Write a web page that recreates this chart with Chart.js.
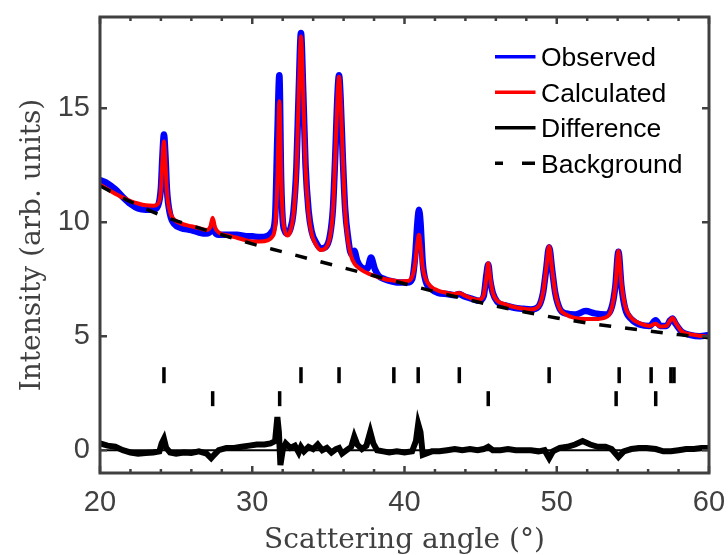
<!DOCTYPE html>
<html>
<head>
<meta charset="utf-8">
<script src="https://cdn.jsdelivr.net/npm/chart.js@4/dist/chart.umd.min.js"></script>
<style>
  html, body { margin: 0; padding: 0; background: #fff; }
  #wrap { width: 728px; height: 555px; }
</style>
</head>
<body>
<div id="wrap"><canvas id="xrd" width="728" height="555"></canvas></div>
<script>
// scattering angle grid shared by observed / calculated profiles
const angle = [
  20.0, 20.5, 21.0, 21.5, 22.0, 22.5, 23.0, 23.5, 23.8, 24.0, 24.1, 24.2, 24.3, 24.4, 24.6, 24.9,
  25.3, 26.0, 26.5, 27.0, 27.25, 27.4, 27.55, 27.8, 28.5, 29.0, 29.5, 30.0, 30.5, 31.0, 31.3, 31.5,
  31.65, 31.78, 31.9, 32.0, 32.15, 32.3, 32.5, 32.7, 32.9, 33.05, 33.2, 33.35, 33.5, 33.7, 33.9, 34.2,
  34.5, 34.8, 35.1, 35.3, 35.45, 35.6, 35.7, 35.8, 35.95, 36.1, 36.3, 36.5, 36.7, 36.9, 37.2, 37.55,
  37.8, 38.05, 38.3, 38.7, 39.2, 39.7, 40.2, 40.5, 40.7, 40.85, 40.95, 41.05, 41.2, 41.4, 41.7, 42.2,
  42.8, 43.3, 43.6, 43.9, 44.4, 44.9, 45.2, 45.38, 45.5, 45.62, 45.8, 46.1, 46.6, 47.2, 47.8, 48.3,
  48.8, 49.1, 49.3, 49.5, 49.7, 49.9, 50.2, 50.6, 51.2, 51.9, 52.5, 53.2, 53.6, 53.85, 54.05, 54.25,
  54.5, 54.9, 55.5, 56.1, 56.5, 56.8, 57.2, 57.45, 57.6, 57.8, 58.2, 58.8, 59.4, 60.0
];
const calculated = [
  11.65, 11.45, 11.25, 11.08, 10.93, 10.82, 10.74, 10.72, 10.8, 11.4, 12.7, 13.55, 12.6, 11.3, 10.45, 10.1,
  9.95, 9.82, 9.74, 9.66, 9.8, 10.2, 9.78, 9.55, 9.4, 9.32, 9.22, 9.15, 9.15, 9.2, 9.35, 9.8,
  11.8, 15.3, 12.0, 10.3, 9.6, 9.42, 9.6, 10.3, 12.2, 15.5, 18.15, 15.6, 12.4, 10.4, 9.5, 9.0,
  8.78, 8.85, 9.35, 10.5, 12.8, 15.5, 16.38, 15.5, 12.8, 10.5, 9.15, 8.5, 8.2, 8.05, 7.9, 7.77,
  7.7, 7.65, 7.58, 7.5, 7.45, 7.4, 7.42, 7.6, 8.2, 9.1, 9.45, 9.0, 8.0, 7.5, 7.2, 7.0,
  6.9, 6.85, 6.9, 6.8, 6.66, 6.6, 6.8, 7.6, 8.2, 7.6, 6.9, 6.55, 6.4, 6.28, 6.2, 6.17,
  6.3, 6.9, 7.9, 8.95, 7.9, 6.9, 6.2, 5.95, 5.8, 5.75, 5.75, 5.82, 6.2, 7.2, 8.75, 7.3,
  6.3, 5.8, 5.55, 5.45, 5.55, 5.42, 5.45, 5.7, 5.8, 5.6, 5.22, 5.08, 5.02, 4.98
];
const observed = [
  11.85, 11.7, 11.45, 11.1, 10.8, 10.6, 10.55, 10.55, 10.7, 11.5, 12.9, 13.85, 12.9, 11.4, 10.35, 9.9,
  9.75, 9.65, 9.55, 9.5, 9.6, 9.85, 9.55, 9.45, 9.45, 9.45, 9.4, 9.38, 9.35, 9.4, 9.6, 10.2,
  13.8, 16.45, 11.8, 10.1, 9.6, 9.5, 9.7, 10.4, 12.4, 15.7, 18.3, 15.7, 12.5, 10.5, 9.6, 9.1,
  8.85, 8.9, 9.4, 10.6, 12.9, 15.6, 16.45, 15.5, 12.8, 10.6, 9.3, 8.6, 8.75, 8.3, 8.0, 7.95,
  8.45, 7.95, 7.65, 7.5, 7.4, 7.35, 7.35, 7.5, 8.5, 10.0, 10.55, 10.0, 8.2, 7.4, 7.1, 6.9,
  6.85, 6.8, 6.85, 6.75, 6.65, 6.55, 6.75, 7.7, 8.15, 7.5, 6.9, 6.5, 6.35, 6.25, 6.2, 6.17,
  6.3, 6.9, 7.9, 8.9, 7.9, 6.9, 6.2, 6.0, 5.95, 6.1, 6.0, 5.95, 6.25, 7.2, 8.7, 7.2,
  6.2, 5.75, 5.5, 5.45, 5.7, 5.45, 5.45, 5.7, 5.78, 5.55, 5.2, 5.05, 5.0, 5.05
];

// difference curve
const diffAngle = [
  20.0, 20.5, 21.0, 21.5, 22.0, 22.5, 23.0, 23.5, 23.9, 24.05, 24.2, 24.35, 24.6, 25.0, 25.5, 26.0,
  26.5, 27.0, 27.3, 27.5, 27.8, 28.3, 28.8, 29.3, 29.8, 30.3, 30.8, 31.2, 31.5, 31.65, 31.75, 31.85,
  32.0, 32.2, 32.5, 32.8, 33.05, 33.2, 33.4, 33.7, 34.0, 34.3, 34.6, 34.9, 35.2, 35.5, 35.7, 35.9,
  36.2, 36.5, 36.7, 36.9, 37.2, 37.5, 37.75, 37.95, 38.2, 38.6, 39.0, 39.5, 40.0, 40.5, 40.75, 40.9,
  41.05, 41.2, 41.4, 41.8, 42.3, 42.8, 43.3, 43.8, 44.3, 44.8, 45.2, 45.5, 45.8, 46.3, 46.8, 47.3,
  47.8, 48.3, 48.8, 49.2, 49.5, 49.75, 50.2, 50.7, 51.2, 51.7, 52.2, 52.7, 53.2, 53.6, 54.05, 54.4,
  54.9, 55.4, 55.9, 56.5, 57.0, 57.5, 58.0, 58.5, 59.0, 59.5, 60.0
];
const difference = [
  0.3, 0.2, 0.15, 0.0, -0.1, -0.15, -0.12, -0.1, -0.05, 0.3, 0.5, 0.1, -0.1, -0.15, -0.1, -0.12,
  -0.05, -0.15, -0.35, -0.2, 0.0, 0.1, 0.1, 0.15, 0.2, 0.25, 0.25, 0.3, 0.4, 1.45, 0.8, -0.65,
  0.0, 0.3, 0.1, 0.2, -0.1, 0.15, -0.05, 0.15, 0.05, 0.25, 0.0, 0.1, -0.1, 0.05, 0.1, -0.15,
  0.0, 0.15, 0.6, 0.25, 0.05, 0.2, 0.8, 0.3, 0.0, -0.05, -0.1, -0.05, -0.1, -0.05, 0.4, 1.15,
  0.8, -0.2, -0.15, -0.05, -0.05, 0.0, 0.05, 0.0, 0.05, 0.0, 0.05, 0.15, 0.0, 0.0, 0.05, 0.0,
  0.0, 0.0, -0.05, 0.0, -0.35, -0.05, 0.1, 0.15, 0.25, 0.4, 0.25, 0.15, 0.15, 0.05, -0.3, -0.05,
  0.05, 0.1, 0.1, 0.05, -0.05, -0.05, 0.0, 0.05, 0.05, 0.1, 0.1
];

// refined background
const bgAngle = [20, 22, 24, 26, 28, 30, 32, 34, 36, 38, 40, 42, 44, 46, 48, 50, 52, 54, 56, 58, 60];
const background = [11.6, 10.9, 10.3, 9.85, 9.45, 9.05, 8.7, 8.35, 8.0, 7.65, 7.3, 6.95, 6.63, 6.32, 6.05, 5.8, 5.58, 5.4, 5.23, 5.07, 4.93];

// Bragg reflection positions, two phases
const phase1Refl = [24.2, 33.2, 35.7, 39.3, 40.9, 43.6, 49.5, 54.1, 56.2, 57.5, 57.7];
const phase2Refl = [27.4, 31.8, 45.5, 53.9, 56.5];

const xTicks = [20, 30, 40, 50, 60];
const yTicks = [0, 5, 10, 15];
const legendLabels = ["Observed", "Calculated", "Difference", "Background"];

const pts = (xs, ys) => xs.map((v, i) => ({x: v, y: ys[i]}));
const row1Y = 3.29, row2Y = 2.26;

// box + inward ticks like the original plot
const frame = {
  id: "frame",
  afterDatasetsDraw(chart){
    const {ctx, chartArea: a, scales: {x, y}} = chart;
    ctx.save();
    ctx.strokeStyle = "#404040";
    ctx.lineWidth = 2.5;
    ctx.beginPath();
    for(let v = 20; v <= 60; v += 2){
      const px = x.getPixelForValue(v);
      const len = xTicks.includes(v) ? 7 : 4;
      ctx.moveTo(px, a.bottom); ctx.lineTo(px, a.bottom - len);
      ctx.moveTo(px, a.top); ctx.lineTo(px, a.top + len);
    }
    yTicks.forEach(v => {
      const py = y.getPixelForValue(v);
      ctx.moveTo(a.left, py); ctx.lineTo(a.left + 7, py);
      ctx.moveTo(a.right, py); ctx.lineTo(a.right - 7, py);
    });
    ctx.stroke();
    ctx.lineWidth = 3;
    ctx.strokeRect(a.left, a.top, a.right - a.left, a.bottom - a.top);
    ctx.restore();
  }
};

const legendBox = {
  id: "legendBox",
  afterDraw(chart){
    const ctx = chart.ctx;
    ctx.save();
    ctx.font = '26.5px "Liberation Sans", Arial, sans-serif';
    ctx.textBaseline = "alphabetic";
    ctx.fillStyle = "#000";
    legendLabels.forEach((lab, i) => {
      const ds = chart.data.datasets.find(d => d.label === lab);
      const cy = 56.7 + i * 35.5;
      ctx.strokeStyle = ds.borderColor;
      ctx.lineWidth = 3.5;
      ctx.setLineDash(ds.borderDash ? [8, 19, 13] : []);
      ctx.beginPath();
      ctx.moveTo(495, cy); ctx.lineTo(535.5, cy);
      ctx.stroke();
      ctx.fillText(lab, 541, cy + 9.5);
    });
    ctx.restore();
  }
};

// no extra room for overflowing tick labels: the plot box is fixed
const noPad = s => { s.paddingTop = 0; s.paddingBottom = 0; s.paddingLeft = 0; s.paddingRight = 0; };

const tickFont = {family: '"Liberation Sans", Arial, sans-serif', size: 29};
const titleFont = {family: '"DejaVu Serif", serif', size: 28};

new Chart(document.getElementById("xrd"), {
  type: "scatter",
  data: {
    datasets: [
      {label: "Background", data: pts(bgAngle, background), showLine: true, borderColor: "#000", borderWidth: 3.5,
       borderDash: [12, 14], pointRadius: 0, cubicInterpolationMode: "monotone", order: 0},
      {label: "Calculated", data: pts(angle, calculated), showLine: true, borderColor: "#ff0000", borderWidth: 4,
       pointRadius: 0, cubicInterpolationMode: "monotone", order: 1},
      {label: "Observed", data: pts(angle, observed), showLine: true, borderColor: "#0000ff", borderWidth: 6.5,
       pointRadius: 0, cubicInterpolationMode: "monotone", order: 2},
      {label: "Difference", data: pts(diffAngle, difference), showLine: true, borderColor: "#000", borderWidth: 6,
       pointRadius: 0, tension: 0, order: 3},
      {label: "zero", data: pts([20, 60], [0, 0]), showLine: true, borderColor: "#000", borderWidth: 2,
       pointRadius: 0, order: 4},
      {label: "phase1", data: phase1Refl.map(v => ({x: v, y: row1Y})), showLine: false, pointStyle: "line",
       rotation: 90, pointRadius: 8, borderColor: "#000", borderWidth: 3.5, order: 5},
      {label: "phase2", data: phase2Refl.map(v => ({x: v, y: row2Y})), showLine: false, pointStyle: "line",
       rotation: 90, pointRadius: 7.5, borderColor: "#000", borderWidth: 3.5, order: 6}
    ]
  },
  options: {
    responsive: false,
    animation: false,
    events: [],
    datasets: {scatter: {clip: 0}},
    layout: {padding: {left: 0, top: 17, right: 19, bottom: 0}},
    plugins: {legend: {display: false}, tooltip: {enabled: false}},
    scales: {
      x: {
        type: "linear", min: 20, max: 60,
        afterFit: s => { s.height = 82; noPad(s); },
        afterBuildTicks: s => { s.ticks = xTicks.map(v => ({value: v})); },
        grid: {display: false, drawTicks: false},
        border: {display: false},
        ticks: {font: tickFont, color: "#404040", padding: 13, maxRotation: 0},
        title: {display: true, text: "Scattering angle (°)", font: titleFont, color: "#404040", padding: {top: 0, bottom: -3}}
      },
      y: {
        type: "linear", min: -1, max: 19,
        afterFit: s => { s.width = 100; noPad(s); },
        afterBuildTicks: s => { s.ticks = yTicks.map(v => ({value: v})); },
        grid: {display: false, drawTicks: false},
        border: {display: false},
        ticks: {font: tickFont, color: "#404040", padding: 10},
        title: {display: true, text: "Intensity (arb. units)", font: titleFont, color: "#404040", padding: {top: 16, bottom: 0}}
      }
    }
  },
  plugins: [frame, legendBox]
});
</script>
</body>
</html>
